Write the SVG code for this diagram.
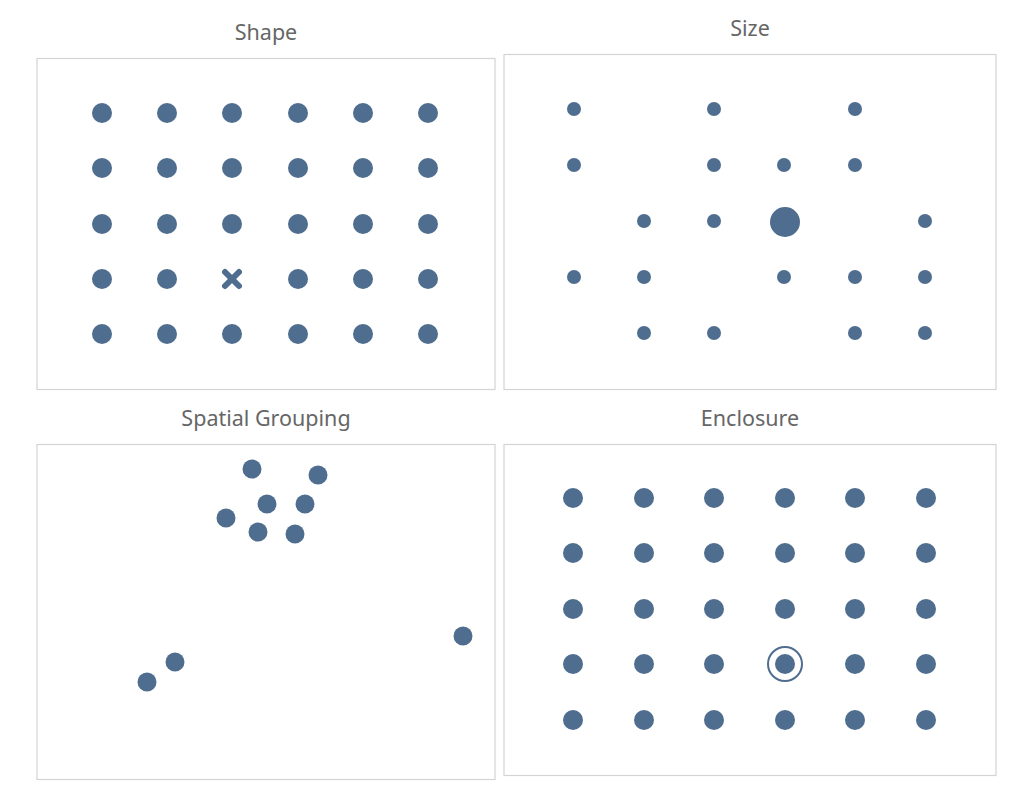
<svg xmlns="http://www.w3.org/2000/svg" width="1024" height="806" viewBox="0 0 1024 806">
<style>
.bg{fill:#ffffff}
.panel{fill:#ffffff;stroke:#d4d4d4;stroke-width:1.2}
.t{font-family:"Noto Sans","Open Sans",sans-serif;font-size:21.5px;fill:#666666;text-anchor:middle}
.d{fill:#4e6d8f}
.x{stroke:#4e6d8f;stroke-width:6;stroke-linecap:round}
.ring{fill:none;stroke:#4e6d8f;stroke-width:2}
</style>
<defs>
<circle id="dot" r="10" class="d"/>
<circle id="sm" r="7" class="d"/>
<circle id="sp" r="9.5" class="d"/>
</defs>
<rect class="bg" x="0" y="0" width="1024" height="806"/>
<g id="shape">
<text class="t" x="266" y="40">Shape</text>
<rect class="panel" x="37" y="58.5" width="458" height="331"/>
<use href="#dot" x="102" y="113"/><use href="#dot" x="167" y="113"/><use href="#dot" x="232" y="113"/><use href="#dot" x="298" y="113"/><use href="#dot" x="363" y="113"/><use href="#dot" x="428" y="113"/>
<use href="#dot" x="102" y="168"/><use href="#dot" x="167" y="168"/><use href="#dot" x="232" y="168"/><use href="#dot" x="298" y="168"/><use href="#dot" x="363" y="168"/><use href="#dot" x="428" y="168"/>
<use href="#dot" x="102" y="224"/><use href="#dot" x="167" y="224"/><use href="#dot" x="232" y="224"/><use href="#dot" x="298" y="224"/><use href="#dot" x="363" y="224"/><use href="#dot" x="428" y="224"/>
<use href="#dot" x="102" y="279"/><use href="#dot" x="167" y="279"/>
<g id="cross"><line class="x" x1="225" y1="272" x2="239" y2="286"/><line class="x" x1="239" y1="272" x2="225" y2="286"/></g>
<use href="#dot" x="298" y="279"/><use href="#dot" x="363" y="279"/><use href="#dot" x="428" y="279"/>
<use href="#dot" x="102" y="334"/><use href="#dot" x="167" y="334"/><use href="#dot" x="232" y="334"/><use href="#dot" x="298" y="334"/><use href="#dot" x="363" y="334"/><use href="#dot" x="428" y="334"/>
</g>
<g id="size">
<text class="t" x="750" y="36">Size</text>
<rect class="panel" x="504" y="54.5" width="492" height="335"/>
<use href="#sm" x="574" y="109"/><use href="#sm" x="714" y="109"/><use href="#sm" x="855" y="109"/>
<use href="#sm" x="574" y="165"/><use href="#sm" x="714" y="165"/><use href="#sm" x="784" y="165"/><use href="#sm" x="855" y="165"/>
<use href="#sm" x="644" y="221"/><use href="#sm" x="714" y="221"/><circle class="d" cx="785" cy="222" r="15"/><use href="#sm" x="925" y="221"/>
<use href="#sm" x="574" y="277"/><use href="#sm" x="644" y="277"/><use href="#sm" x="784" y="277"/><use href="#sm" x="855" y="277"/><use href="#sm" x="925" y="277"/>
<use href="#sm" x="644" y="333"/><use href="#sm" x="714" y="333"/><use href="#sm" x="855" y="333"/><use href="#sm" x="925" y="333"/>
</g>
<g id="spatial">
<text class="t" x="266" y="426">Spatial Grouping</text>
<rect class="panel" x="37" y="444.5" width="458" height="335"/>
<use href="#sp" x="252" y="469"/><use href="#sp" x="318" y="475"/><use href="#sp" x="267" y="504"/><use href="#sp" x="305" y="504"/><use href="#sp" x="226" y="518"/><use href="#sp" x="258" y="532"/><use href="#sp" x="295" y="534"/>
<use href="#sp" x="463" y="636"/><use href="#sp" x="175" y="662"/><use href="#sp" x="147" y="682"/>
</g>
<g id="enclosure">
<text class="t" x="750" y="426">Enclosure</text>
<rect class="panel" x="504" y="444.5" width="492" height="331"/>
<use href="#dot" x="573" y="498"/><use href="#dot" x="644" y="498"/><use href="#dot" x="714" y="498"/><use href="#dot" x="785" y="498"/><use href="#dot" x="855" y="498"/><use href="#dot" x="926" y="498"/>
<use href="#dot" x="573" y="553"/><use href="#dot" x="644" y="553"/><use href="#dot" x="714" y="553"/><use href="#dot" x="785" y="553"/><use href="#dot" x="855" y="553"/><use href="#dot" x="926" y="553"/>
<use href="#dot" x="573" y="609"/><use href="#dot" x="644" y="609"/><use href="#dot" x="714" y="609"/><use href="#dot" x="785" y="609"/><use href="#dot" x="855" y="609"/><use href="#dot" x="926" y="609"/>
<use href="#dot" x="573" y="664"/><use href="#dot" x="644" y="664"/><use href="#dot" x="714" y="664"/><use href="#dot" x="785" y="664"/><circle class="ring" cx="785" cy="664" r="17"/><use href="#dot" x="855" y="664"/><use href="#dot" x="926" y="664"/>
<use href="#dot" x="573" y="720"/><use href="#dot" x="644" y="720"/><use href="#dot" x="714" y="720"/><use href="#dot" x="785" y="720"/><use href="#dot" x="855" y="720"/><use href="#dot" x="926" y="720"/>
</g>
<g id="connectors"></g>
</svg>
